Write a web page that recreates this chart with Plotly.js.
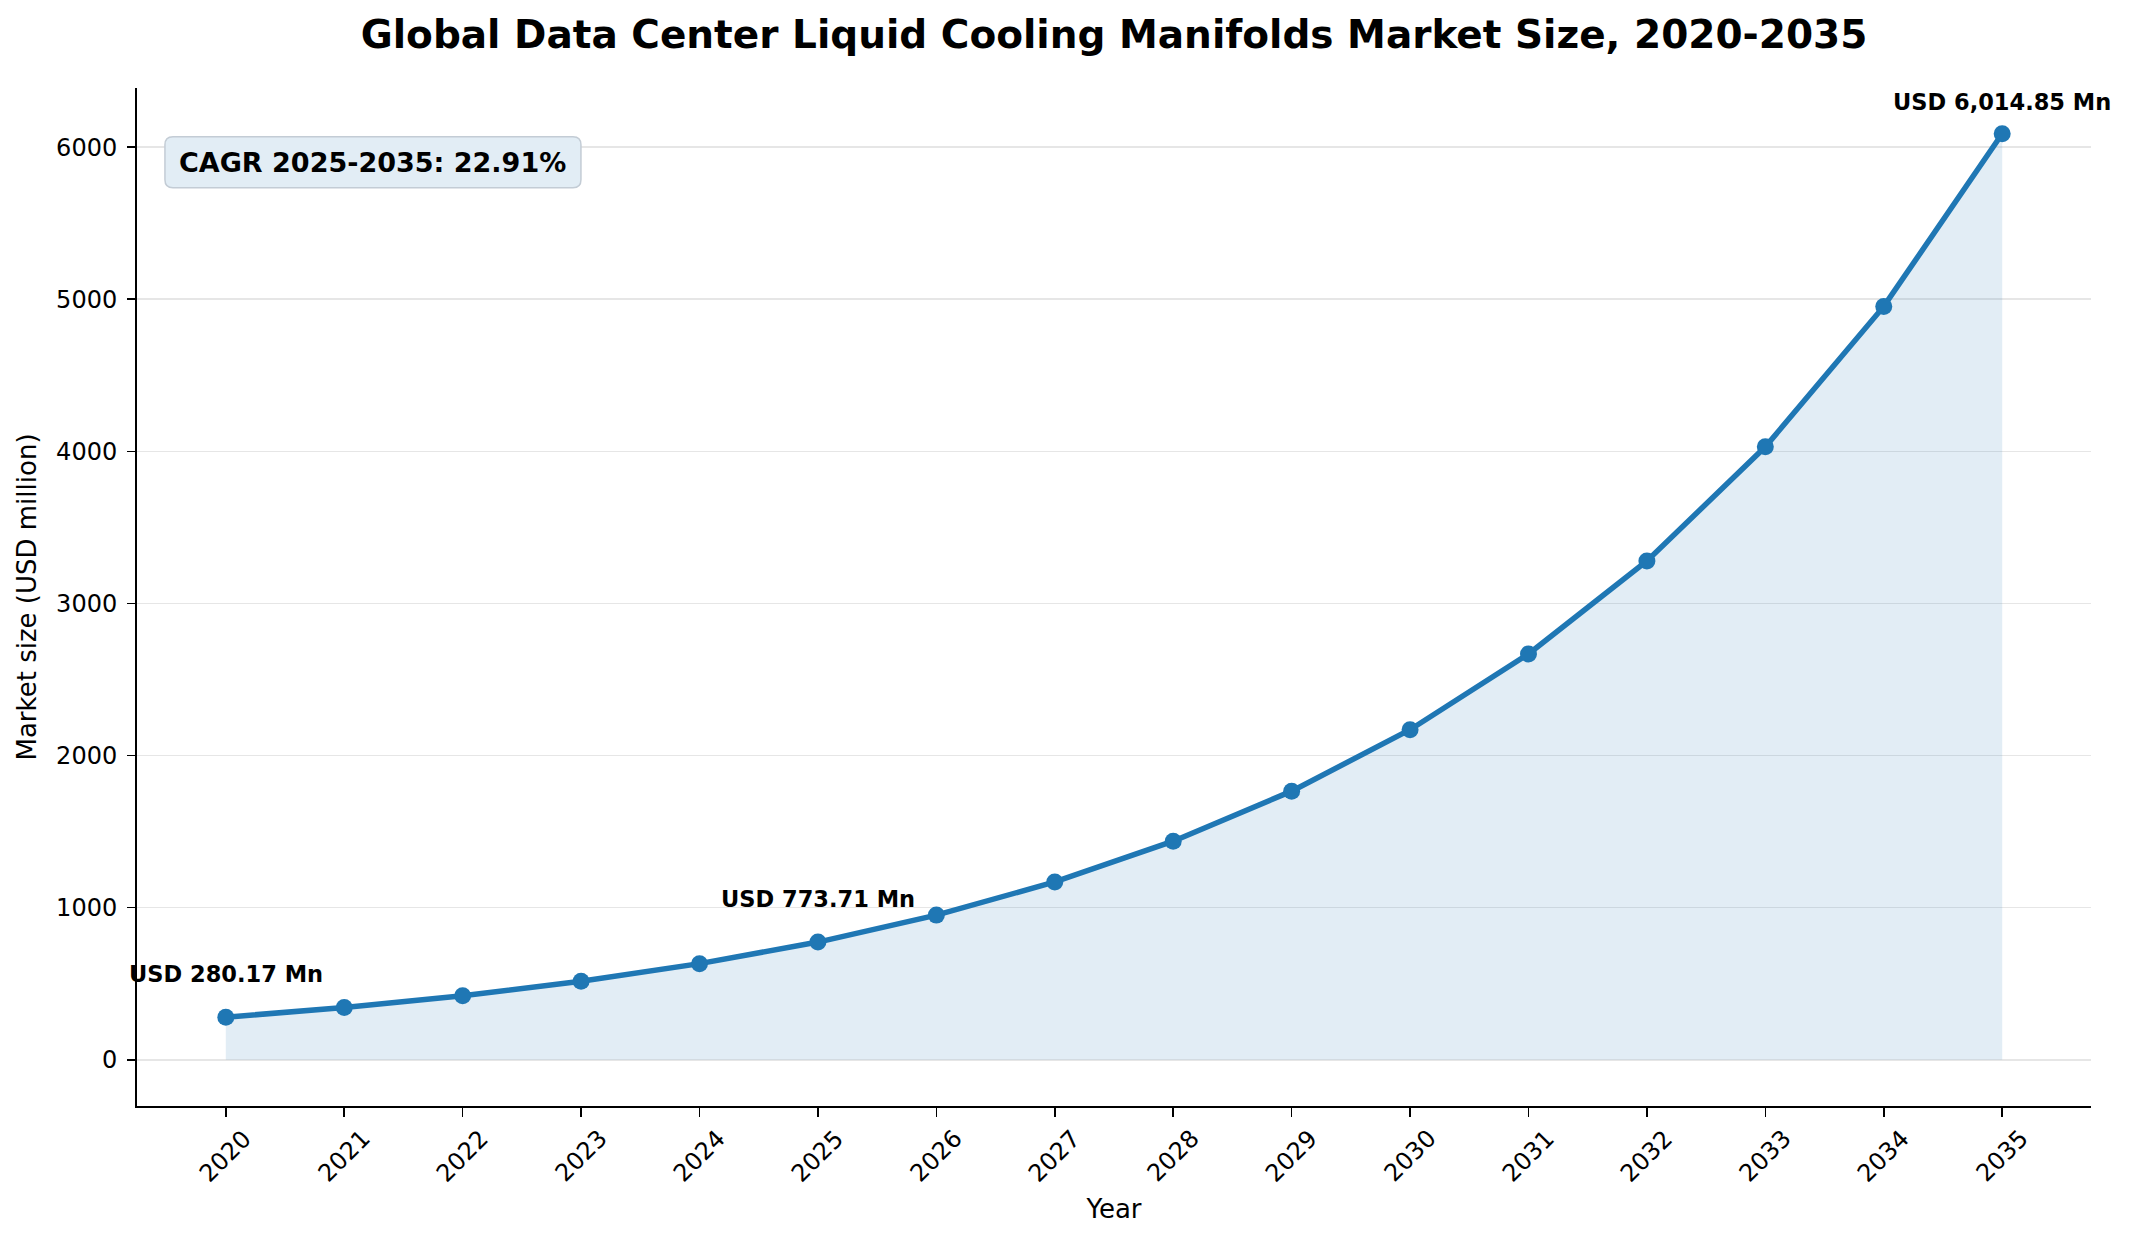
<!DOCTYPE html>
<html>
<head>
<meta charset="utf-8">
<script src="https://cdn.plot.ly/plotly-3.0.1.min.js"></script>
<style>html,body{margin:0;padding:0;background:#fff;}#chart{width:2129px;height:1242px;}</style>
</head>
<body>
<div id="chart"></div>
<script>
// ---- data ----
const years = [2020, 2021, 2022, 2023, 2024, 2025, 2026, 2027, 2028, 2029, 2030, 2031, 2032, 2033, 2034, 2035];
const marketSize = [280.17, 343, 421, 516, 632, 773.71, 951, 1169, 1437, 1766, 2170, 2668, 3279, 4030, 4953, 6088];
const labelYears = [2020, 2025, 2035];
const labelValues = [280.17, 773.71, 6014.85];
const cagrText = "CAGR 2025-2035: 22.91%";
const titleText = "Global Data Center Liquid Cooling Manifolds Market Size, 2020-2035";
const xTitle = "Year";
const yTitle = "Market size (USD million)";
const yTicks = [0, 1000, 2000, 3000, 4000, 5000, 6000];

// ---- styling ----
const FONT = "DejaVu Sans";
const BLUE = "#1f77b4";

const fmt = v => "USD " + v.toLocaleString("en-US", {minimumFractionDigits: 2, maximumFractionDigits: 2}) + " Mn";

const traces = [
  {
    x: years, y: marketSize, type: "scatter", mode: "none",
    fill: "tozeroy", fillcolor: "rgba(31,119,180,0.13)",
    hoverinfo: "skip", showlegend: false
  },
  {
    x: years, y: marketSize, type: "scatter", mode: "lines+markers",
    line: {color: BLUE, width: 5.5},
    marker: {color: BLUE, size: 17},
    showlegend: false
  }
];

const annotations = [];
// value labels
labelYears.forEach((yr, i) => {
  annotations.push({
    x: yr, y: labelValues[i], xref: "x", yref: "y",
    text: "<b>" + fmt(labelValues[i]) + "</b>",
    showarrow: false, xanchor: "center", yanchor: "bottom", yshift: 28,
    font: {family: FONT, size: 22.5, color: "#000"}
  });
});
// rotated x tick labels (centered under ticks)
years.forEach(yr => {
  annotations.push({
    x: yr, y: 0, xref: "x", yref: "paper",
    text: String(yr), textangle: -45,
    showarrow: false, xanchor: "center", yanchor: "top", yshift: -16,
    font: {family: FONT, size: 24, color: "#000"}
  });
});
// CAGR box (rounded)
const bx0 = 0.0143, bx1 = 0.2272, by0 = 0.9021, by1 = 0.9522;
const rx = 8 / 1954, ry = 8 / 1018;
const boxPath = `M ${bx0 + rx} ${by0} L ${bx1 - rx} ${by0} Q ${bx1} ${by0} ${bx1} ${by0 + ry} ` +
  `L ${bx1} ${by1 - ry} Q ${bx1} ${by1} ${bx1 - rx} ${by1} L ${bx0 + rx} ${by1} ` +
  `Q ${bx0} ${by1} ${bx0} ${by1 - ry} L ${bx0} ${by0 + ry} Q ${bx0} ${by0} ${bx0 + rx} ${by0} Z`;
annotations.push({
  x: (bx0 + bx1) / 2, y: (by0 + by1) / 2, xref: "paper", yref: "paper",
  xanchor: "center", yanchor: "middle",
  text: "<b>" + cagrText + "</b>", showarrow: false,
  font: {family: FONT, size: 27, color: "#000"}
});

const layout = {
  width: 2129, height: 1242,
  paper_bgcolor: "#fff", plot_bgcolor: "#fff",
  font: {family: FONT, color: "#000", size: 24},
  margin: {l: 137, r: 38, t: 88, b: 136, pad: 0},
  title: {
    text: "<b>" + titleText + "</b>",
    font: {family: FONT, size: 39, color: "#000"},
    x: (137 + 2091) / 2 / 2129, xanchor: "center", xref: "container",
    y: 1 - 34 / 1242, yanchor: "middle", yref: "container"
  },
  shapes: [{
    type: "path", xref: "paper", yref: "paper", path: boxPath,
    fillcolor: "#e2edf5", line: {color: "#c3ccd5", width: 1.5}, layer: "above"
  }],
  xaxis: {
    range: [2019.25, 2035.75],
    tickvals: years, showticklabels: false,
    ticks: "outside", ticklen: 9, tickwidth: 1.6, tickcolor: "#000",
    showline: true, linecolor: "#000", linewidth: 2,
    showgrid: false, zeroline: false,
    title: {text: xTitle, font: {family: FONT, size: 26, color: "#000"}, standoff: 84}
  },
  yaxis: {
    range: [-304, 6389],
    tickvals: yTicks, ticktext: yTicks.map(String),
    ticks: "outside", ticklen: 8, tickwidth: 1.6, tickcolor: "#000",
    ticklabelstandoff: 5,
    tickfont: {family: FONT, size: 24, color: "#000"},
    showline: true, linecolor: "#000", linewidth: 2,
    showgrid: true, gridcolor: "#e6e6e6", gridwidth: 1.6,
    zeroline: false,
    title: {text: yTitle, font: {family: FONT, size: 26, color: "#000"}, standoff: 12}
  },
  annotations: annotations,
  showlegend: false
};

Plotly.newPlot("chart", traces, layout, {displayModeBar: false, staticPlot: true});
</script>
</body>
</html>
